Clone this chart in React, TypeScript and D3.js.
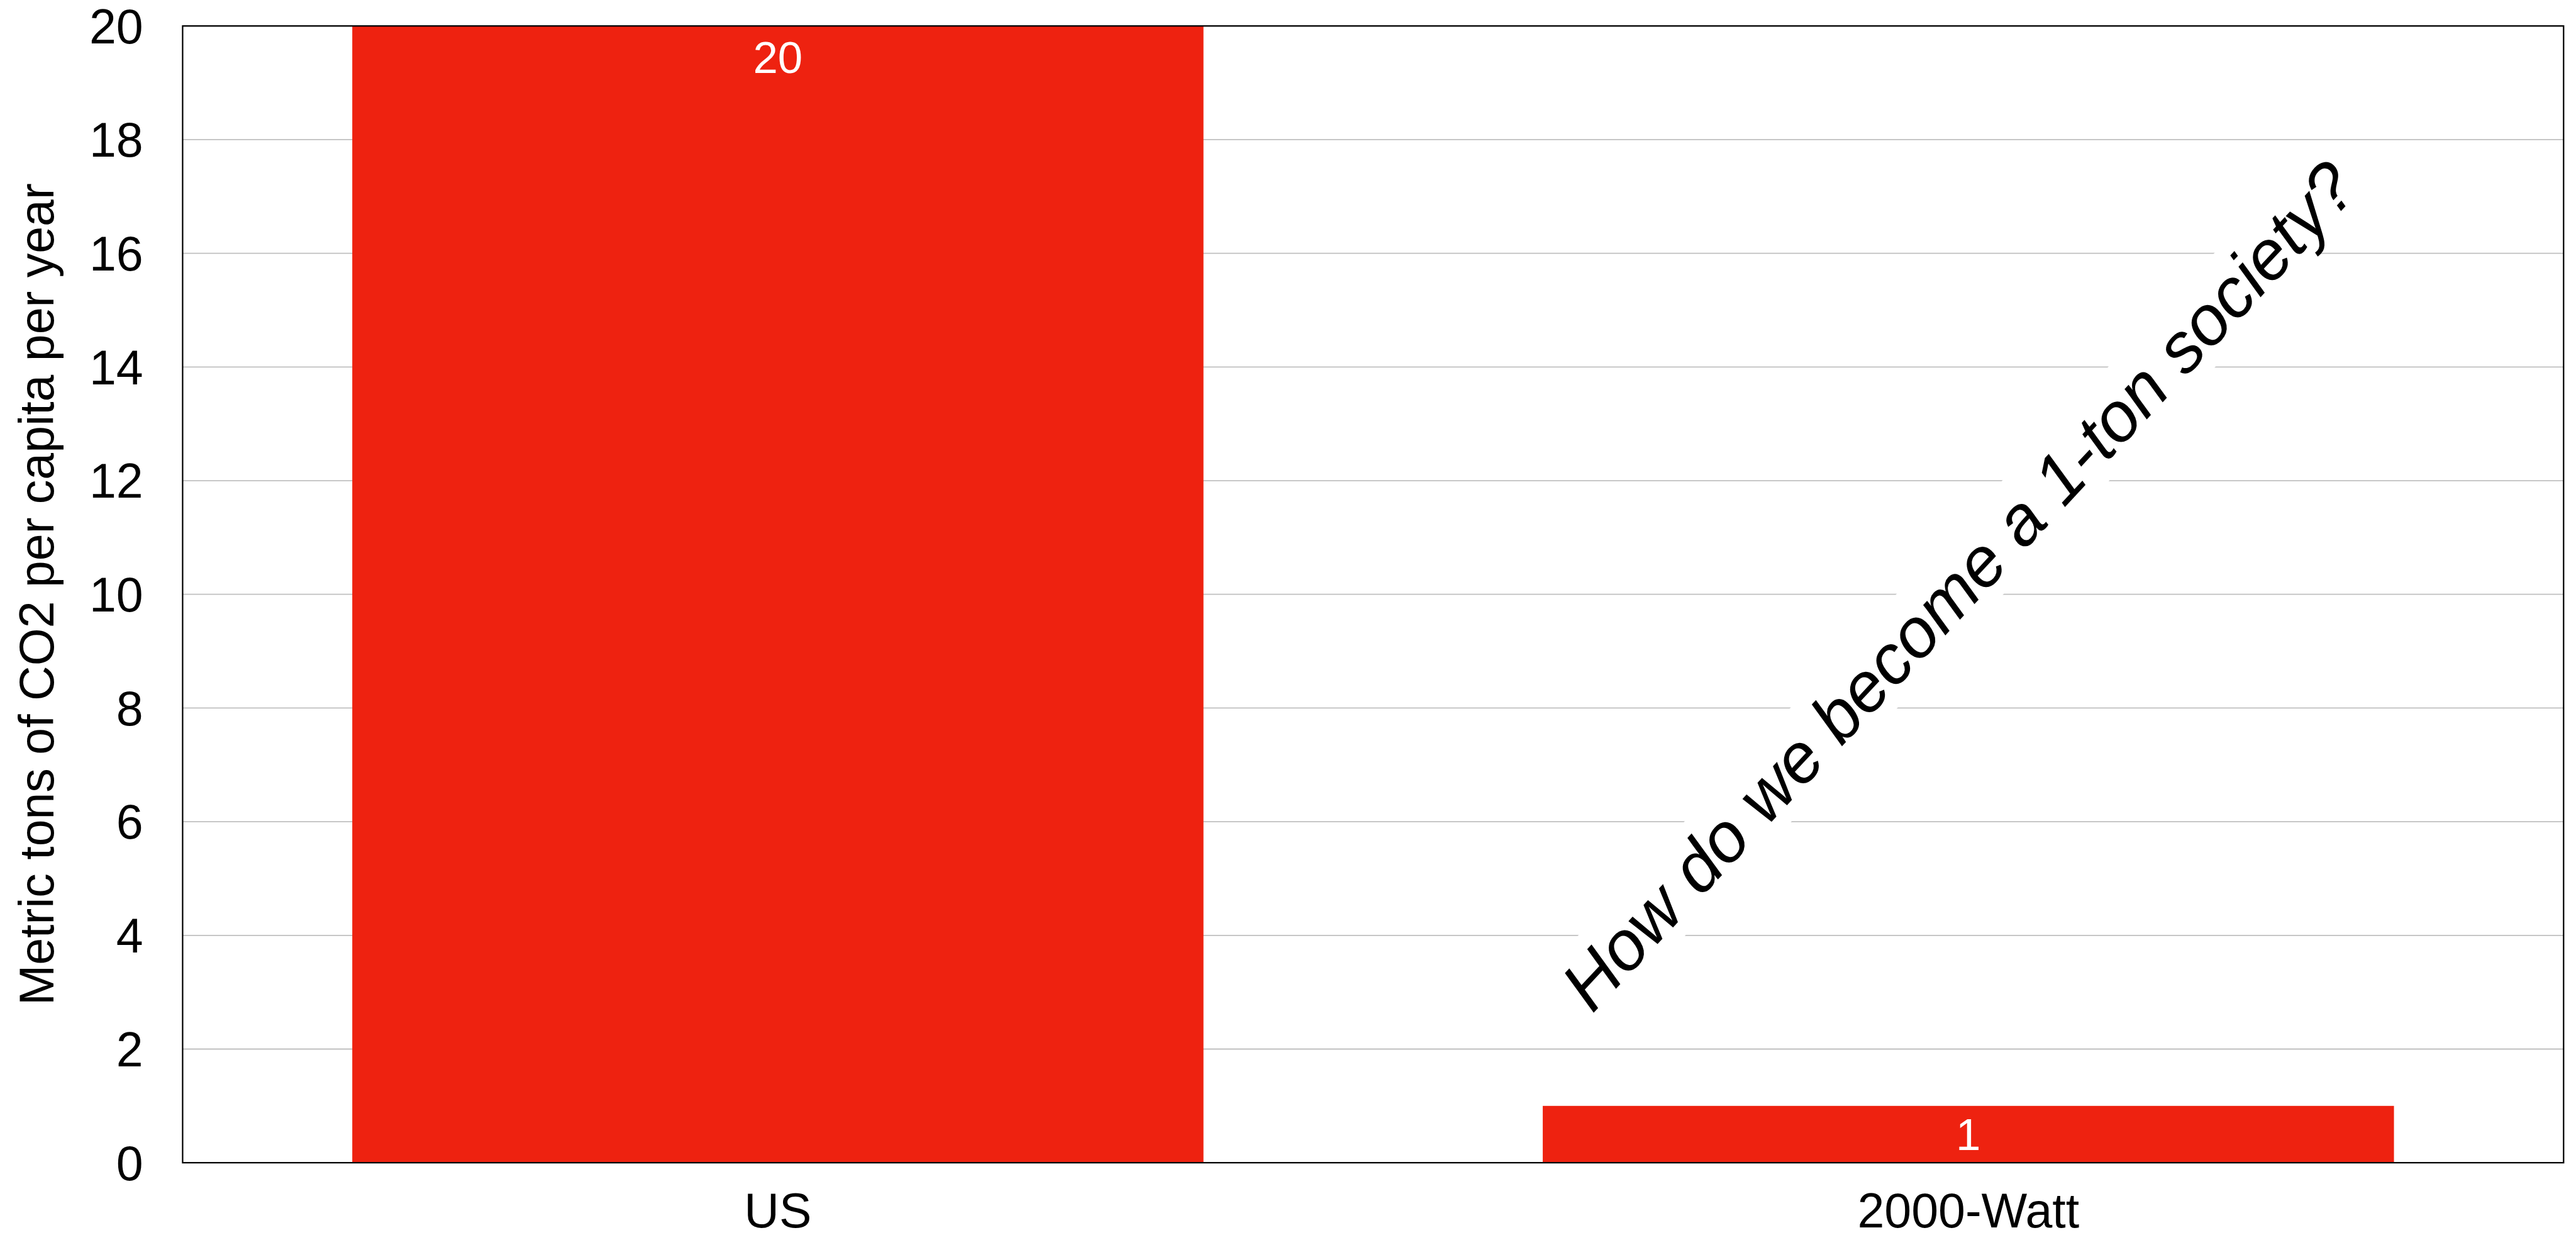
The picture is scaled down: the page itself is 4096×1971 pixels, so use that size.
import React from "react";
import * as d3 from "d3";

// Emissions per person, metric tons of CO2 per year
const categories = ["US", "2000-Watt"];
const values = [20, 1];
const yTicks = [0, 2, 4, 6, 8, 10, 12, 14, 16, 18, 20];
const yTitle = "Metric tons of CO2 per capita per year";
const annotation = "How do we become a 1-ton society?";

const W = 4570;
const H = 2199;
const M = { left: 324, right: 22, top: 46, bottom: 137 };
const FONT = "'Liberation Sans', Arial, Helvetica, sans-serif";
const BAR = "#EE2210";
const GRID = "#BFBFBF";

export default function App() {
  const x = d3
    .scaleBand<string>()
    .domain(categories)
    .range([M.left, W - M.right])
    .paddingInner(0.285)
    .paddingOuter(0.1425);
  const y = d3.scaleLinear().domain([0, 20]).range([H - M.bottom, M.top]);

  const x0 = M.left;
  const x1 = W - M.right;
  const yBottom = y(0);
  const yTop = y(20);

  // annotation placed over the second category
  const annFont = 124;
  const annW = 16.118 * annFont + 20;
  const annH = 1.12 * annFont;
  const annX = (x("2000-Watt") as number) + x.bandwidth() / 2 - 18;
  const annY = y(10.16);

  return (
    <svg
      width={4096}
      height={1971}
      viewBox={`0 0 ${W} ${H}`}
      style={{ position: "fixed", left: 0, top: 0, display: "block", background: "#fff" }}
      fontFamily={FONT}
    >
      <rect x={0} y={0} width={W} height={H} fill="#fff" />
      {/* horizontal gridlines */}
      {yTicks.map((t) => (
        <line key={`g${t}`} x1={x0} x2={x1} y1={y(t)} y2={y(t)} stroke={GRID} strokeWidth={2} />
      ))}
      {/* bars */}
      {categories.map((c, i) => (
        <rect
          key={c}
          x={x(c)}
          y={y(values[i])}
          width={x.bandwidth()}
          height={yBottom - y(values[i])}
          fill={BAR}
        />
      ))}
      {/* value labels inside bars */}
      {categories.map((c, i) => {
        const top = y(values[i]);
        const h = yBottom - top;
        const cy = top + Math.min(55.5, h / 2);
        return (
          <text
            key={`v${c}`}
            x={(x(c) as number) + x.bandwidth() / 2}
            y={cy}
            dy="0.355em"
            textAnchor="middle"
            fontSize={79}
            fill="#fff"
          >
            {values[i]}
          </text>
        );
      })}
      {/* annotation with white backing box */}
      <g transform={`translate(${annX},${annY}) rotate(-47)`}>
        <rect x={-annW / 2} y={-annH / 2} width={annW} height={annH} fill="#fff" />
        <text
          x={0}
          y={0}
          dy="0.355em"
          textAnchor="middle"
          fontSize={annFont}
          fontStyle="italic"
          fill="#000"
        >
          {annotation}
        </text>
      </g>
      {/* plot frame */}
      <rect
        x={x0}
        y={yTop}
        width={x1 - x0}
        height={yBottom - yTop}
        fill="none"
        stroke="#000"
        strokeWidth={2.5}
      />
      {/* y tick labels */}
      {yTicks.map((t) => (
        <text key={`t${t}`} x={x0 - 70} y={y(t)} dy="0.355em" textAnchor="end" fontSize={86} fill="#000">
          {t}
        </text>
      ))}
      {/* category labels */}
      {categories.map((c) => (
        <text
          key={`c${c}`}
          x={(x(c) as number) + x.bandwidth() / 2}
          y={2177}
          textAnchor="middle"
          fontSize={86}
          fill="#000"
        >
          {c}
        </text>
      ))}
      {/* y axis title */}
      <text
        transform={`translate(95,${(yTop + yBottom) / 2}) rotate(-90)`}
        textAnchor="middle"
        fontSize={86}
        fill="#000"
      >
        {yTitle}
      </text>
    </svg>
  );
}
